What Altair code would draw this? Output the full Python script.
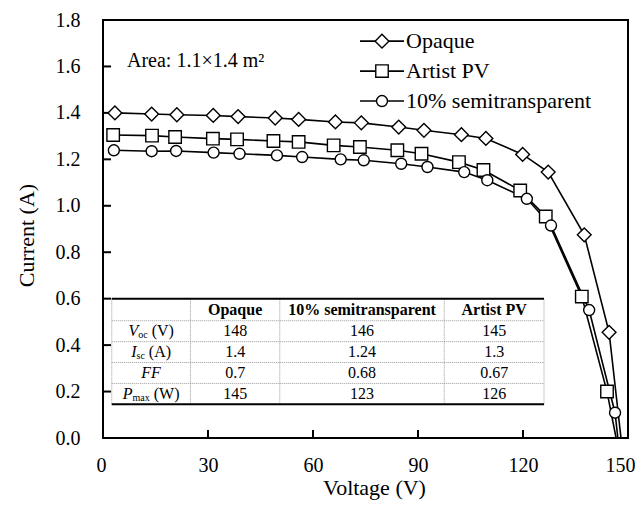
import altair as alt
import pandas as pd

# ---------------- data ----------------
series_names = ["Opaque", "Artist PV", "10% semitransparent"]

opaque_v = [3.4, 13.9, 21.1, 31.5, 38.6, 49.2, 55.9, 66.4, 73.8, 84.5, 91.7, 102.4, 109.4, 119.9, 127.2, 137.5, 144.6]
opaque_i = [1.400, 1.395, 1.392, 1.389, 1.384, 1.378, 1.372, 1.361, 1.357, 1.339, 1.325, 1.306, 1.290, 1.221, 1.145, 0.875, 0.455]
opaque_voc = 148.0

artist_v = [2.9, 14.0, 20.6, 31.4, 38.3, 48.7, 55.9, 65.9, 73.4, 84.1, 91.0, 101.7, 108.7, 119.2, 126.5, 136.8, 144.0]
artist_i = [1.305, 1.302, 1.296, 1.289, 1.286, 1.279, 1.275, 1.260, 1.253, 1.239, 1.224, 1.188, 1.154, 1.066, 0.954, 0.609, 0.200]
artist_voc = 146.6

semi_v = [3.1, 13.9, 20.9, 31.6, 39.0, 49.7, 56.9, 67.9, 74.5, 85.2, 92.7, 103.2, 109.8, 121.1, 128.0, 138.9, 146.3]
semi_i = [1.239, 1.235, 1.236, 1.229, 1.224, 1.217, 1.210, 1.200, 1.196, 1.181, 1.167, 1.145, 1.110, 1.030, 0.915, 0.551, 0.109]
semi_voc = 147.1

x_ticks = [0, 30, 60, 90, 120, 150]
y_ticks = [0.0, 0.2, 0.4, 0.6, 0.8, 1.0, 1.2, 1.4, 1.6, 1.8]

table_cols = ["Opaque", "10% semitransparent", "Artist PV"]
row_voc = ["148", "146", "145"]
row_isc = ["1.4", "1.24", "1.3"]
row_ff = ["0.7", "0.68", "0.67"]
row_pmax = ["145", "123", "126"]
row_labels = [("V", "oc", "(V)"), ("I", "sc", "(A)"), ("FF", "", ""), ("P", "max", "(W)")]

area_text = "Area: 1.1\u00d71.4 m\u00b2"

# ---------------- layout / style ----------------
FONT = "Liberation Serif"
W, H = 525, 418
XMAX, YMAX = 150.0, 1.8
PXV = W / XMAX          # px per volt
PXA = H / YMAX          # px per amp

xs = alt.Scale(domain=[0, XMAX], nice=False, zero=False)
ys = alt.Scale(domain=[0, YMAX], nice=False, zero=False)

xaxis = alt.Axis(title="Voltage (V)", values=x_ticks, ticks=False, domain=False, grid=False,
                 labelFont=FONT, labelFontSize=20, labelColor="black",
                 labelFlush=True, labelFlushOffset=7,
                 labelBaseline="alphabetic", labelPadding=33,
                 titleFont=FONT, titleFontSize=22, titleFontWeight="normal", titleColor="black",
                 titleX=271, titleY=56, titleBaseline="alphabetic")
yaxis = alt.Axis(title="Current (A)", values=y_ticks, format=".1f", ticks=False, domain=False, grid=False,
                 labelFont=FONT, labelFontSize=20, labelColor="black", labelFlush=False,
                 labelBaseline="middle", labelPadding=23,
                 titleFont=FONT, titleFontSize=22, titleFontWeight="normal", titleColor="black",
                 titleAngle=-90, titleX=-77, titleY=215, titleBaseline="middle", titleAlign="center")


def X(f="x"):
    return alt.X(f, type="quantitative", scale=xs, axis=xaxis)


def Y(f="y"):
    return alt.Y(f, type="quantitative", scale=ys, axis=yaxis)


shape_scale = alt.Scale(domain=series_names, range=["diamond", "square", "circle"])
size_scale = alt.Scale(domain=series_names, range=[190, 121, 169])

# ---------------- curves ----------------
rows_line, rows_pts = [], []
for name, vv, ii, voc in [("Opaque", opaque_v, opaque_i, opaque_voc),
                          ("Artist PV", artist_v, artist_i, artist_voc),
                          ("10% semitransparent", semi_v, semi_i, semi_voc)]:
    for v, i in zip(vv, ii):
        rows_line.append({"series": name, "x": v, "y": i})
        rows_pts.append({"series": name, "x": v, "y": i})
    rows_line.append({"series": name, "x": voc, "y": 0.0})
line_df = pd.DataFrame(rows_line)
pts_df = pd.DataFrame(rows_pts)

lines = alt.Chart(line_df).mark_line(color="black", strokeWidth=1.6).encode(
    x=X(), y=Y(), detail="series:N", order="x:Q")
points = alt.Chart(pts_df).mark_point(filled=True, fill="white", stroke="black", strokeWidth=1.4, opacity=1).encode(
    x=X(), y=Y(),
    shape=alt.Shape("series:N", scale=shape_scale, legend=None),
    size=alt.Size("series:N", scale=size_scale, legend=None))

# ---------------- inward ticks ----------------
xt_df = pd.DataFrame({"x": x_ticks[1:-1], "y": 0.0, "y2": 8 / PXA})
yt_df = pd.DataFrame({"y": y_ticks[1:-1], "x": 0.0, "x2": 8 / PXV})
xt = alt.Chart(xt_df).mark_rule(color="black", strokeWidth=2).encode(x=X(), y=Y(), y2="y2")
yt = alt.Chart(yt_df).mark_rule(color="black", strokeWidth=2).encode(y=Y(), x=X(), x2="x2")

# ---------------- legend (drawn) ----------------
leg_y = [1.709, 1.580, 1.451]
leg_df = pd.DataFrame({"series": series_names, "y": leg_y,
                       "x": (360 - 103) / PXV, "x2": (404 - 103) / PXV,
                       "xm": (382 - 103) / PXV, "xt": (406 - 103) / PXV})
leg_lines = alt.Chart(leg_df).mark_rule(color="black", strokeWidth=1.6).encode(x=X(), x2="x2", y=Y())
leg_pts = alt.Chart(leg_df).mark_point(filled=True, fill="white", stroke="black", strokeWidth=1.4, opacity=1).encode(
    x=X("xm"), y=Y(),
    shape=alt.Shape("series:N", scale=shape_scale, legend=None),
    size=alt.Size("series:N", scale=size_scale, legend=None))
leg_txt = alt.Chart(leg_df).mark_text(align="left", baseline="middle", font=FONT, fontSize=22, color="black").encode(
    x=X("xt"), y=Y(), text="series:N")

area_df = pd.DataFrame({"x": [(127 - 103) / PXV], "y": [(438 - 67) / PXA], "t": [area_text]})
area = alt.Chart(area_df).mark_text(align="left", baseline="alphabetic", font=FONT, fontSize=20, color="black").encode(
    x=X(), y=Y(), text="t:N")

# ---------------- table ----------------
tx = [2.5, 25.0, 50.5, 97.5, 126.0]
ty_top, ty_bot = 0.600, 0.145
ty_rows = [0.505, 0.415, 0.325, 0.235]
row_centers = [(0.600 + 0.505) / 2] + [(a + b) / 2 for a, b in zip(ty_rows, ty_rows[1:] + [ty_bot])]
col_centers = [(a + b) / 2 for a, b in zip(tx[:-1], tx[1:])]

vl_df = pd.DataFrame({"x": tx, "y": ty_bot, "y2": ty_top})
hl_df = pd.DataFrame({"y": ty_rows, "x": tx[0], "x2": tx[-1]})
th_df = pd.DataFrame({"y": [ty_top, ty_bot], "x": tx[0], "x2": tx[-1]})
vlines = alt.Chart(vl_df).mark_rule(color="#9a9a9a", strokeWidth=1, strokeDash=[1, 1]).encode(x=X(), y=Y(), y2="y2")
hlines = alt.Chart(hl_df).mark_rule(color="#9a9a9a", strokeWidth=1, strokeDash=[1, 1]).encode(y=Y(), x=X(), x2="x2")
thick = alt.Chart(th_df).mark_rule(color="black", strokeWidth=2).encode(y=Y(), x=X(), x2="x2")

hdr_df = pd.DataFrame({"x": col_centers[1:], "y": row_centers[0], "t": table_cols})
hdr = alt.Chart(hdr_df).mark_text(align="center", baseline="middle", font=FONT, fontSize=16, fontWeight="bold",
                                  color="black").encode(x=X(), y=Y(), text="t:N")

val_rows = []
for r, vals in enumerate([row_voc, row_isc, row_ff, row_pmax]):
    for c, v in enumerate(vals):
        val_rows.append({"x": col_centers[c + 1], "y": row_centers[r + 1], "t": v})
val_df = pd.DataFrame(val_rows)
vals = alt.Chart(val_df).mark_text(align="center", baseline="middle", font=FONT, fontSize=16, color="black").encode(
    x=X(), y=Y(), text="t:N")

# row labels: italic symbol + small subscript + unit
w_reg = {"(": 0.333, ")": 0.333, "V": 0.722, "A": 0.722, "W": 0.944}
w_it = {"V": 0.611, "I": 0.333, "F": 0.611, "P": 0.611}
w_sub = {"o": 0.5, "c": 0.444, "s": 0.389, "m": 0.778, "a": 0.444, "x": 0.5}
FS, FSS = 16, 10
it_rows, sub_rows, unit_rows = [], [], []
c0 = col_centers[0] * PXV
for r, (sym, sub, unit) in enumerate(row_labels):
    wm = sum(w_it[ch] for ch in sym) * FS
    ws = sum(w_sub[ch] for ch in sub) * FSS
    gap = 4 if unit else 0
    wu = sum(w_reg[ch] for ch in unit) * FS
    start = c0 - (wm + ws + gap + wu) / 2
    yc = row_centers[r + 1]
    it_rows.append({"x": start / PXV, "y": yc, "t": sym})
    if sub:
        sub_rows.append({"x": (start + wm) / PXV, "y": yc, "t": sub})
    if unit:
        unit_rows.append({"x": (start + wm + ws + gap) / PXV, "y": yc, "t": unit})
lab_it = alt.Chart(pd.DataFrame(it_rows)).mark_text(align="left", baseline="middle", font=FONT, fontSize=FS,
                                                    fontStyle="italic", color="black").encode(x=X(), y=Y(), text="t:N")
lab_sub = alt.Chart(pd.DataFrame(sub_rows)).mark_text(align="left", baseline="middle", font=FONT, fontSize=FSS,
                                                      dy=4, color="black").encode(x=X(), y=Y(), text="t:N")
lab_unit = alt.Chart(pd.DataFrame(unit_rows)).mark_text(align="left", baseline="middle", font=FONT, fontSize=FS,
                                                        color="black").encode(x=X(), y=Y(), text="t:N")

chart = alt.layer(
    vlines, hlines, thick, hdr, vals, lab_it, lab_sub, lab_unit,
    xt, yt, lines, points, leg_lines, leg_pts, leg_txt, area
).properties(
    width=W, height=H,
    autosize=alt.AutoSizeParams(type="none"),
    padding={"left": 95, "top": 12, "right": 8, "bottom": 64},
    background="white",
).configure_view(stroke="black", strokeWidth=2)

chart.save("out.html", embed_options={"renderer": "svg", "actions": False})
